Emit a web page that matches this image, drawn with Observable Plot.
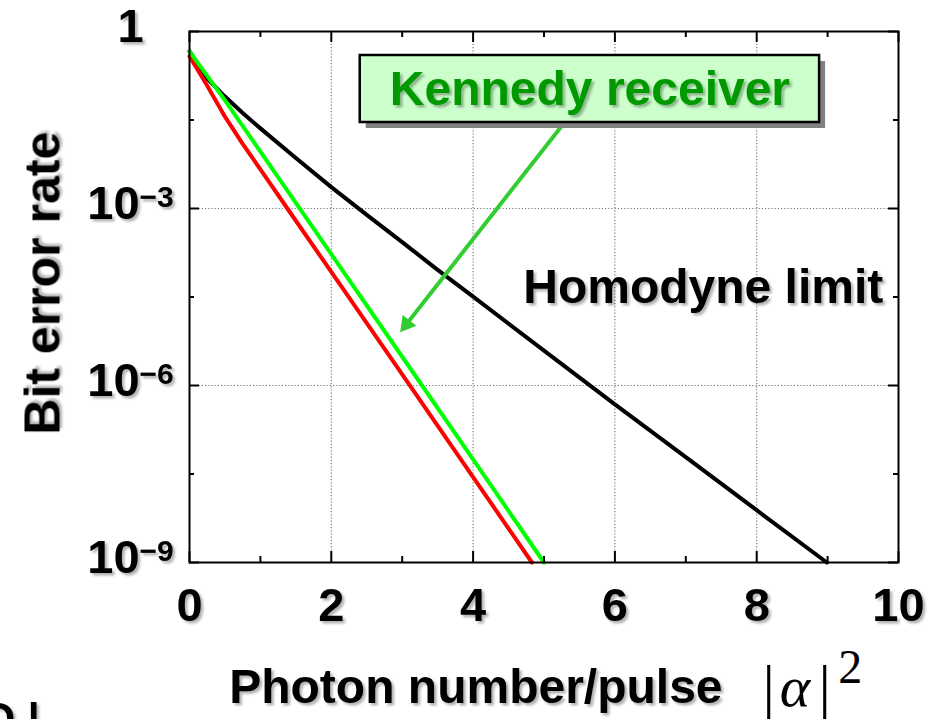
<!DOCTYPE html>
<html><head><meta charset="utf-8">
<script src="https://cdn.jsdelivr.net/npm/d3@7"></script>
<script src="https://cdn.jsdelivr.net/npm/@observablehq/plot@0.6"></script>
<style>
html,body{margin:0;padding:0;background:#fff;overflow:hidden;}
</style></head><body><div id="chart"></div>
<script>
// ---- data ----
const homodyneX = [0, 0.25, 0.5, 0.75, 1, 1.5, 2, 2.5, 3, 3.5, 4, 5, 6, 7, 8, 8.99];
const homodyneBER = [0.46, 0.159, 0.079, 0.0416, 0.0228, 0.0072, 0.0023, 7.8e-4, 2.7e-4, 9.1e-5, 3.2e-5, 3.9e-6, 4.8e-7, 6.1e-8, 7.7e-9, 1e-9];
const kennedyX = [0, 0.5, 1, 1.5, 2, 3, 4, 5.0];
const kennedyBER = [0.46, 0.068, 0.0092, 1.24e-3, 1.68e-4, 3.07e-6, 5.6e-8, 1e-9];
const helstromX = [0, 0.25, 0.5, 0.75, 1, 1.5, 2, 3, 4, 4.83];
const helstromBER = [0.38, 0.12, 0.036, 0.0125, 0.0046, 6.2e-4, 8.4e-5, 1.54e-6, 2.8e-8, 1e-9];

const xMajorTicks = [0, 2, 4, 6, 8, 10];
const xMinorTicks = [1, 3, 5, 7, 9];
const xGrid = [2, 4, 6, 8];
const yMajorTicks = [1, 1e-3, 1e-6, 1e-9];
const yMinorTicks = [3.16e-2, 3.16e-5, 3.16e-8];
const yGrid = [1e-3, 1e-6];
const yTickLabels = ["1", "10−3", "10−6", "10−9"];

const homodyne = homodyneX.map((x, i) => ({x, y: homodyneBER[i]}));
const kennedy = kennedyX.map((x, i) => ({x, y: kennedyBER[i]}));
const helstrom = helstromX.map((x, i) => ({x, y: helstromBER[i]}));

const W = 946, H = 719, mL = 189, mR = 48, mT = 31, mB = 157;
const plotH = H - mT - mB, plotW = W - mL - mR;
const SANS = "'Liberation Sans', Arial, Helvetica, sans-serif";
const SERIF = "'Liberation Serif', 'DejaVu Serif', serif";

const chart = Plot.plot({
  width: W, height: H,
  marginLeft: mL, marginRight: mR, marginTop: mT, marginBottom: mB,
  style: {fontFamily: SANS, background: "white"},
  x: {domain: [0, 10], axis: null},
  y: {type: "log", domain: [1e-9, 1], axis: null},
  marks: [
    Plot.ruleX(xGrid, {x: d => d, stroke: "#777", strokeWidth: 1.2, strokeDasharray: "1.2,2"}),
    Plot.ruleY(yGrid, {y: d => d, stroke: "#777", strokeWidth: 1.2, strokeDasharray: "1.2,2"}),
    Plot.line(homodyne, {x: "x", y: "y", stroke: "black", strokeWidth: 4}),
    Plot.line(helstrom, {x: "x", y: "y", stroke: "#ff0000", strokeWidth: 4}),
    Plot.line(kennedy, {x: "x", y: "y", stroke: "#00ff00", strokeWidth: 4}),
    // ticks (inward, on all four sides)
    Plot.tickX(xMajorTicks, {x: d => d, stroke: "black", strokeWidth: 2, insetTop: plotH - 11}),
    Plot.tickX(xMajorTicks, {x: d => d, stroke: "black", strokeWidth: 2, insetBottom: plotH - 11}),
    Plot.tickX(xMinorTicks, {x: d => d, stroke: "black", strokeWidth: 2, insetTop: plotH - 6}),
    Plot.tickX(xMinorTicks, {x: d => d, stroke: "black", strokeWidth: 2, insetBottom: plotH - 6}),
    Plot.tickY(yMajorTicks, {y: d => d, stroke: "black", strokeWidth: 2, insetRight: plotW - 10}),
    Plot.tickY(yMajorTicks, {y: d => d, stroke: "black", strokeWidth: 2, insetLeft: plotW - 10}),
    Plot.tickY(yMinorTicks, {y: d => d, stroke: "black", strokeWidth: 2, insetRight: plotW - 5}),
    Plot.tickY(yMinorTicks, {y: d => d, stroke: "black", strokeWidth: 2, insetLeft: plotW - 5}),
    Plot.frame({stroke: "black", strokeWidth: 2}),
    // axes labels
    Plot.axisX(xMajorTicks, {tickSize: 0, tickPadding: 25, fontSize: 47, fontWeight: "bold", fontFamily: SANS, label: null, tickFormat: d => String(d)}),
    Plot.axisY(yMajorTicks, {tickSize: 0, tickPadding: 59, textAnchor: "middle", fontSize: 47, fontWeight: "bold", fontFamily: SANS, label: null, dy: -5,
      tickFormat: d => yTickLabels[yMajorTicks.indexOf(d)]}),
    Plot.text(["Bit error rate"], {frameAnchor: "left", y: 5.4e-5, text: d => d, rotate: -90, dx: -130, lineAnchor: "bottom", textAnchor: "middle", fontSize: 50, fontWeight: "bold", fontFamily: SANS, fill: "black"}),
    Plot.text(["Photon number/pulse"], {frameAnchor: "bottom", x: 0.56, text: d => d, dy: 140, lineAnchor: "bottom", textAnchor: "start", fontSize: 48, fontWeight: "bold", fontFamily: SANS, fill: "black"}),
    // |alpha|^2
    Plot.text(["|"], {frameAnchor: "bottom", x: 8.17, text: d => d, dy: 145, lineAnchor: "bottom", textAnchor: "middle", fontSize: 62, fontFamily: SERIF, fill: "black"}),
    Plot.text(["α"], {frameAnchor: "bottom", x: 8.54, text: d => d, dy: 143, lineAnchor: "bottom", textAnchor: "middle", fontSize: 58, fontStyle: "italic", fontFamily: SERIF, fill: "black"}),
    Plot.text(["|"], {frameAnchor: "bottom", x: 8.96, text: d => d, dy: 145, lineAnchor: "bottom", textAnchor: "middle", fontSize: 62, fontFamily: SERIF, fill: "black"}),
    Plot.text(["2"], {frameAnchor: "bottom", x: 9.32, text: d => d, dy: 86, lineAnchor: "top", textAnchor: "middle", fontSize: 48, fontFamily: SERIF, fill: "black"}),
    // cut-off fragment bottom-left
    Plot.text(["D |"], {frameAnchor: "bottom-left", text: d => d, dx: -206, dy: 171, lineAnchor: "bottom", textAnchor: "start", fontSize: 44, fontWeight: "bold", fontFamily: SANS, fill: "black"}),
    // Kennedy receiver annotation
    Plot.link([0], {x1: 5.366, y1: 0.0377, x2: 3.059, y2: 1.09e-5, stroke: "#33cc33", strokeWidth: 4}),
    Plot.dot([0], {x: 2.972, y: 8.0e-6, symbol: "triangle", r: 6.5, rotate: 218.2, fill: "#33cc33", stroke: "none", dx: 6.2, dy: -7.9}),
    Plot.rect([0], {x1: 2.408, x2: 8.887, y1: 0.392, y2: 0.0287, fill: "#808080", dx: 6, dy: 6}),
    Plot.rect([0], {x1: 2.408, x2: 8.887, y1: 0.392, y2: 0.0287, fill: "#ccffcc", stroke: "black", strokeWidth: 2.5}),
    Plot.text(["Kennedy receiver"], {x: 5.648, y: 0.0557, text: d => d, lineAnchor: "bottom", textAnchor: "middle", fontSize: 48, fontWeight: "bold", fontFamily: SANS, fill: "#009900"}),
    Plot.text(["Homodyne limit"], {x: 7.246, y: 2.55e-5, text: d => d, lineAnchor: "bottom", textAnchor: "middle", fontSize: 48, fontWeight: "bold", fontFamily: SANS, fill: "black"})
  ]
});

document.getElementById("chart").appendChild(chart);

const svg = d3.select(chart.tagName.toLowerCase() === "svg" ? chart : chart.querySelector("svg"));
// drop shadow filter for bold labels
const defs = svg.insert("defs", ":first-child");
const f = defs.append("filter").attr("id", "tshadow").attr("x", "-10%").attr("y", "-20%").attr("width", "130%").attr("height", "150%");
f.append("feDropShadow").attr("dx", 2.5).attr("dy", 2.5).attr("stdDeviation", 0.8)
  .attr("flood-color", "#000").attr("flood-opacity", 0.3);

// superscripts on y tick labels
svg.selectAll("text").each(function () {
  const t = d3.select(this);
  const s = t.text();
  const i = s.indexOf("−");
  if (s.startsWith("10−") && i > 0) {
    t.text(s.slice(0, i));
    t.append("tspan").attr("dy", -12).attr("font-size", 30).text(s.slice(i));
  }
});

svg.selectAll("text").each(function () {
  const g = this.closest("g");
  const ff = (g && g.getAttribute("font-family")) || "";
  if (!/Serif/.test(ff)) d3.select(this).attr("filter", "url(#tshadow)");
});
</script></body></html>
